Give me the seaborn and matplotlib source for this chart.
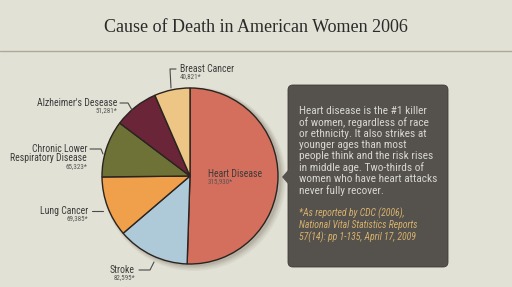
import matplotlib
matplotlib.use("Agg")
import matplotlib.pyplot as plt
import matplotlib.patches as mpatches
import seaborn as sns
import numpy as np

# ---- data ----
categories = ["Heart Disease", "Stroke", "Lung Cancer",
              "Chronic Lower\nRespiratory Disease", "Alzheimer's Desease", "Breast Cancer"]
deaths = [315930, 82595, 69385, 65323, 51281, 40821]
colors = ["#D46F5D", "#AECAD8", "#F0A04B", "#6F7236", "#6A2538", "#EDC585"]
title = "Cause of Death in American Women 2006"
note_text = ("Heart disease is the #1 killer\nof women, regardless of race\nor ethnicity. It also strikes at\n"
             "younger ages than most\npeople think and the risk rises\nin middle age. Two-thirds of\n"
             "women who have heart attacks\nnever fully recover.")
source_text = ("*As reported by CDC (2006),\nNational Vital Statistics Reports\n"
               "57(14): pp 1-135, April 17, 2009")

sns.set_theme(style="white")
plt.rcParams['font.family'] = ['Roboto Condensed', 'DejaVu Sans']

W, H = 512, 287
BG = "#E2E1D5"
fig = plt.figure(figsize=(W / 100, H / 100), dpi=100, facecolor=BG)
ax = fig.add_axes([0, 0, 1, 1])
ax.set_facecolor(BG)

def Y(y):  # convert top-based pixel to axis y
    return H - y

# title and rule
ax.text(256, Y(27), title, ha="center", va="center", fontsize=13,
        family="Liberation Serif", color="#2a2a2a")
ax.plot([0, W], [Y(51), Y(51)], color="#aaa99c", lw=1)

# pie shadow
cx, cy, r = 190, 176, 88
for i, a in enumerate([0.05, 0.06, 0.08, 0.10]):
    ax.add_patch(mpatches.Circle((cx + 4 - i * 0.5, Y(cy) - 3 + i * 0.5), r + 4 - i,
                                 color="#3a3020", alpha=a, lw=0, zorder=1))

wedges, _ = ax.pie(deaths, colors=colors, startangle=90, counterclock=False,
                   center=(cx, Y(cy)), radius=r,
                   wedgeprops=dict(edgecolor="#2a2420", linewidth=1.0), frame=True)
for w in wedges:
    w.set_zorder(2)
ax.set_xlim(0, W)
ax.set_ylim(0, H)
ax.set_aspect("equal")
ax.axis("off")

# labels (layout positions)
lab_color = "#3b3b3b"
val_color = "#555555"
layout = {
    0: (208, 174, "left", None),
    1: (135, 270, "right", [(139, 270), (150, 270), (154, 262)]),
    2: (88, 211, "right", [(92, 211), (103, 211)]),
    3: (87, 149, "right", [(90, 149), (101, 149), (103, 154)]),
    4: (117, 103, "right", [(120, 103), (128, 103), (132, 110)]),
    5: (180, 69, "left", [(176, 69), (170, 69), (171, 88)]),
}
for i, (name, val) in enumerate(zip(categories, deaths)):
    tx, ty, ha, pts = layout[i]
    lines = name.split("\n")
    for k, line in enumerate(lines):
        ax.text(tx, Y(ty + 9 * k), line, ha=ha, va="center", fontsize=7,
                color=lab_color, zorder=5)
    ax.text(tx, Y(ty + 8 + 10 * (len(lines) - 1)), f"{val:,}*", ha=ha, va="center",
            fontsize=5, color=val_color, zorder=5)
    if pts:
        xs = [p[0] for p in pts]
        ys = [Y(p[1]) for p in pts]
        ax.plot(xs, ys, color="#4a4a4a", lw=0.8)

# callout box
box = mpatches.FancyBboxPatch((288, Y(267)), 160, 182,
                              boxstyle="round,pad=0,rounding_size=5",
                              facecolor="#55514C", edgecolor="#3e3a36", lw=0.6, zorder=3)
ax.add_patch(box)
ax.add_patch(mpatches.Polygon([(289, Y(169)), (282, Y(177)), (289, Y(185))],
                              closed=True, facecolor="#55514C", edgecolor="none", zorder=4))
ax.text(299, Y(106), note_text, ha="left", va="top", fontsize=8.2, color="#D6D6D0",
        linespacing=1.13, zorder=5)
ax.text(299, Y(208), source_text, ha="left", va="top", fontsize=7, color="#D7B26E",
        style="italic", linespacing=1.13, zorder=5)

fig.savefig("out.png", dpi=100, facecolor=BG)
